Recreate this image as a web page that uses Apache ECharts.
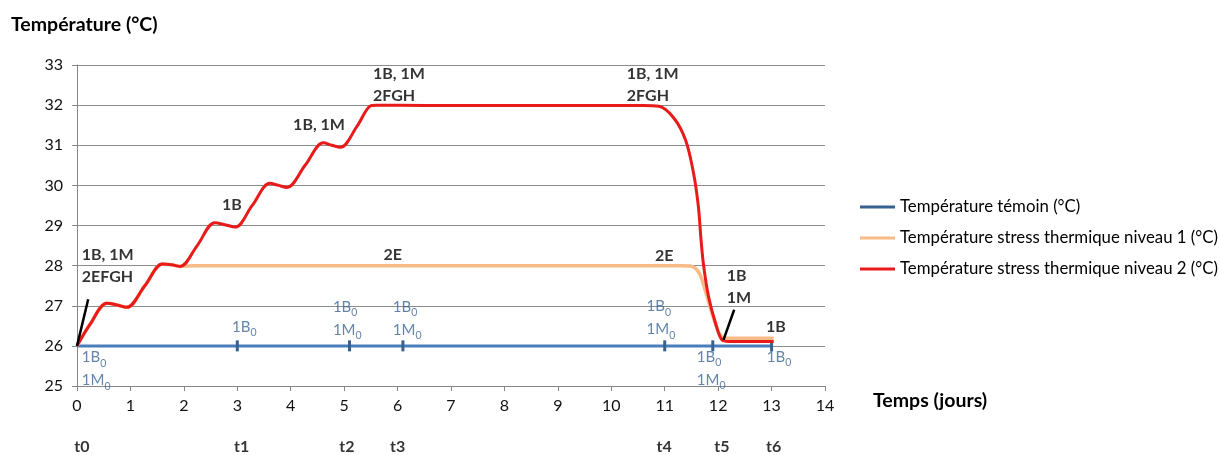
<!DOCTYPE html>
<html>
<head>
<meta charset="utf-8">
<script src="https://cdn.jsdelivr.net/npm/echarts@6/dist/echarts.min.js"></script>
<style>html,body{margin:0;padding:0;background:#fff}#c{width:1220px;height:455px}</style>
</head>
<body>
<div id="c"></div>
<script>
// ---- data ----
const seriesNames = ['Température témoin (°C)', 'Température stress thermique niveau 1 (°C)', 'Température stress thermique niveau 2 (°C)'];
const controlX = [0, 3, 5.1, 6.1, 11, 11.9, 13];
const controlTemp = 26;
const stress1 = [[0,26],[0.25,26.55],[0.56,27.06],[0.75,27.02],[0.93,26.96],[1.27,27.5],[1.6,28.04],[1.77,28.02],[1.93,27.98],[2.2,28],[6,28],[11.3,28],[11.48,27.99],[11.63,27.85],[11.72,27.55],[11.82,27.1],[11.95,26.55],[12.07,26.22],[12.2,26.19],[13.04,26.19]];
const stress2 = [[0,26],[0.25,26.55],[0.56,27.06],[0.75,27.02],[0.93,26.96],[1.27,27.5],[1.6,28.04],[1.77,28.02],[1.93,27.98],[2.25,28.5],[2.58,29.07],[2.77,29.02],[2.96,28.96],[3.28,29.5],[3.61,30.05],[3.77,30.0],[3.93,29.95],[4.27,30.5],[4.61,31.06],[4.77,31.0],[4.93,30.95],[5.24,31.47],[5.49,31.98],[5.6,32.0],[6.5,31.99],[8,31.99],[10.6,31.99],[10.89,31.97],[11.17,31.68],[11.39,31.13],[11.54,30.3],[11.63,29.47],[11.68,28.64],[11.73,27.98],[11.82,27.23],[11.95,26.57],[12.07,26.15],[12.2,26.11],[13.04,26.11]];
const pointerLines = [[[0,26],[0.21,27.16]], [[12.1,26.15],[12.3,26.9]]];
// black annotations: [text, x, y, align]
const blackNotes = [
  ['1B, 1M\n2EFGH', 0.09, 27.99, 'left'],
  ['1B', 2.9, 29.52, 'center'],
  ['1B, 1M', 4.53, 31.51, 'center'],
  ['1B, 1M\n2FGH', 5.54, 32.51, 'left'],
  ['1B, 1M\n2FGH', 10.29, 32.51, 'left'],
  ['2E', 5.91, 28.27, 'center'],
  ['2E', 10.99, 28.25, 'center'],
  ['1B\n1M', 12.16, 27.47, 'left'],
  ['1B', 13.08, 26.47, 'center']
];
// blue (control) annotations with subscript 0
const blueNotes = [
  ['1B{s|0}\n1M{s|0}', 0.09, 25.43, 'left'],
  ['1B{s|0}', 3.13, 26.47, 'center'],
  ['1B{s|0}\n1M{s|0}', 4.79, 26.69, 'left'],
  ['1B{s|0}\n1M{s|0}', 5.91, 26.69, 'left'],
  ['1B{s|0}\n1M{s|0}', 10.66, 26.70, 'left'],
  ['1B{s|0}\n1M{s|0}', 11.6, 25.44, 'left'],
  ['1B{s|0}', 12.91, 25.73, 'left']
];
const timeLabels = ['t0','t1','t2','t3','t4','t5','t6'];
const timeX = [0.09, 3.08, 5.05, 6.0, 10.99, 12.07, 13.04];
const timeLabelY = 23.48;
const xTicks = {min: 0, max: 14, interval: 1};
const yTicks = {min: 25, max: 33, interval: 1};

// ---- chart ----
const FONT = 'Lato';
const BLUE = '#4A7EBB', ORANGE = '#F8BA86', RED = '#E81A1A', NOTE_BLUE = '#3D6594';
const chart = echarts.init(document.getElementById('c'), null, {renderer: 'canvas'});

function noteSeries(notes, style) {
  return {
    type: 'scatter', symbolSize: 0, silent: true, clip: false, z: 10,
    data: notes.map(n => ({value: [n[1], n[2]], label: {align: n[3]}, text: n[0]})),
    label: Object.assign({
      show: true, position: [0, 0], verticalAlign: 'middle',
      formatter: p => p.data.text
    }, style)
  };
}

const option = {
  animation: false,
  backgroundColor: '#fff',
  title: [
    {text: 'Température (°C)', left: 11, top: 15, padding: 0, textStyle: {fontFamily: FONT, fontSize: 19.5, fontWeight: 'bold', color: '#000'}},
    {text: 'Temps (jours)', left: 873, top: 391, padding: 0, textStyle: {fontFamily: FONT, fontSize: 19.5, fontWeight: 'bold', color: '#000'}}
  ],
  grid: {left: 77, right: 395, top: 65, bottom: 69, containLabel: false},
  legend: {
    orient: 'vertical', left: 860, top: 197, padding: 0, itemWidth: 35, itemHeight: 3, itemGap: 11,
    textStyle: {fontFamily: FONT, fontSize: 16.8, color: '#000', lineHeight: 20},
    data: seriesNames.map(n => ({name: n, icon: 'rect'})),
    selectedMode: false
  },
  xAxis: {
    type: 'value', min: xTicks.min, max: xTicks.max, interval: xTicks.interval,
    axisLine: {show: true, lineStyle: {color: '#868686', width: 1}},
    axisTick: {show: true, length: 5, lineStyle: {color: '#868686'}},
    axisLabel: {fontFamily: FONT, fontSize: 16, color: '#111', margin: 12},
    splitLine: {show: false}
  },
  yAxis: {
    type: 'value', min: yTicks.min, max: yTicks.max, interval: yTicks.interval,
    axisLine: {show: true, lineStyle: {color: '#868686', width: 1}},
    axisTick: {show: true, length: 5, lineStyle: {color: '#868686'}},
    axisLabel: {fontFamily: FONT, fontSize: 16, color: '#111', margin: 14},
    splitLine: {show: true, lineStyle: {color: '#8c8c8c', width: 1}}
  },
  series: [
    {
      name: seriesNames[0], type: 'line', color: BLUE, z: 3,
      data: controlX.map((x, i) => ({value: [x, controlTemp], symbol: i === 0 ? 'none' : 'rect'})),
      symbolSize: [3, 11], showSymbol: true,
      itemStyle: {color: '#37618F'},
      lineStyle: {color: BLUE, width: 3}
    },
    {
      name: seriesNames[1], type: 'line', color: ORANGE, z: 4, smooth: 0.35, showSymbol: false,
      data: stress1, lineStyle: {color: ORANGE, width: 3.5}
    },
    {
      name: seriesNames[2], type: 'line', color: RED, z: 5, smooth: 0.35, showSymbol: false,
      data: stress2, lineStyle: {color: RED, width: 3}
    },
    ...pointerLines.map(seg => ({
      type: 'line', data: seg, showSymbol: false, silent: true, z: 6,
      lineStyle: {color: '#000', width: 2.5}, legendHoverLink: false
    })),
    noteSeries(blackNotes, {fontFamily: FONT, fontSize: 16, fontWeight: 'bold', color: '#000', lineHeight: 22}),
    noteSeries(blueNotes, {
      fontFamily: FONT, fontSize: 15, color: NOTE_BLUE, lineHeight: 23,
      rich: {s: {fontFamily: FONT, fontSize: 10.5, color: NOTE_BLUE, lineHeight: 16, verticalAlign: 'bottom'}}
    }),
    noteSeries(timeLabels.map((t, i) => [t, timeX[i], timeLabelY, 'center']),
      {fontFamily: FONT, fontSize: 16, fontWeight: 'bold', color: '#000'})
  ]
};
chart.setOption(option);
</script>
</body>
</html>
